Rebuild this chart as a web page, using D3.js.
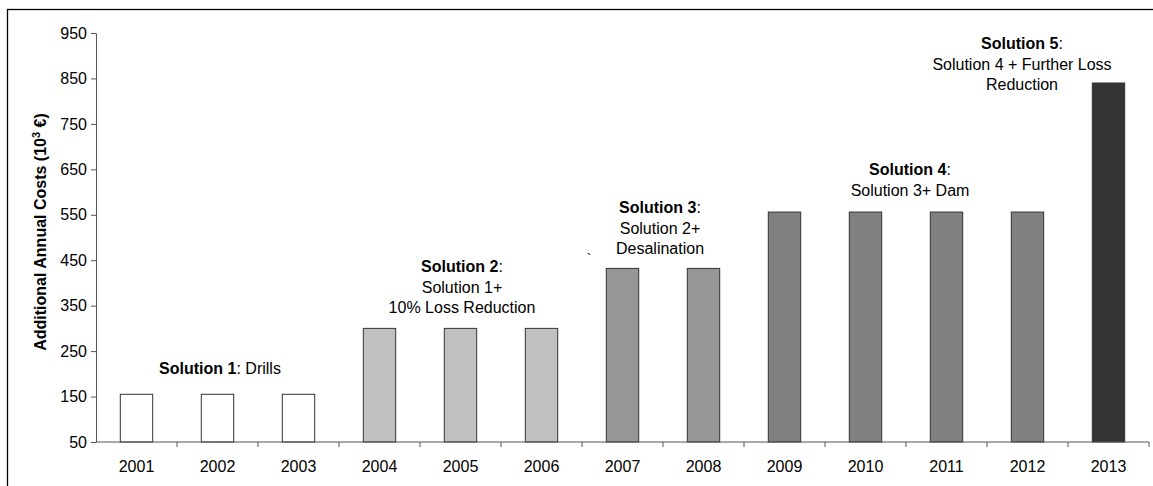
<!DOCTYPE html>
<html>
<head>
<meta charset="utf-8">
<script src="https://cdn.jsdelivr.net/npm/d3@7"></script>
<style>
  html, body { margin: 0; padding: 0; background: #fff; }
  svg { display: block; font-family: Arial, "Liberation Sans", sans-serif; }
</style>
</head>
<body>
<svg id="chart" width="1153" height="486"></svg>
<script>
// ---- data ----
const years = ["2001","2002","2003","2004","2005","2006","2007","2008","2009","2010","2011","2012","2013"];
const costs = [155, 155, 155, 300, 300, 300, 432, 432, 556, 556, 556, 556, 840];
const solutionOfYear = [1,1,1,2,2,2,3,3,4,4,4,4,5];
const solutionColors = ["#ffffff", "#c0c0c0", "#969696", "#808080", "#333333"];
const yTicks = [50, 150, 250, 350, 450, 550, 650, 750, 850, 950];
const annTitles = ["Solution 1", "Solution 2", "Solution 3", "Solution 4", "Solution 5"];
const annLines = [
  [": Drills"],
  [":", "Solution 1+", "10% Loss Reduction"],
  [":", "Solution 2+", "Desalination"],
  [":", "Solution 3+ Dam"],
  [":", "Solution 4 + Further Loss", "Reduction"]
];
const yLabel = "Additional Annual Costs (10";

(function () {
// ---- layout ----
const svg = d3.select("#chart");
const mLeft = 96, mRight = 1149, mTop = 33, mBottom = 442;

// frame
svg.append("rect").attr("x", 7.5).attr("y", 9.5).attr("width", 1200).attr("height", 600)
  .attr("fill", "none").attr("stroke", "#000").attr("stroke-width", 1.3);

const x = d3.scaleBand().domain(years).range([mLeft, mRight]).paddingInner(0.6).paddingOuter(0.3);
const xb = d3.scaleBand().domain(years).range([mLeft, mRight]);
const y = d3.scaleLinear().domain([50, 950]).range([mBottom, mTop]);

// bars
svg.append("g").selectAll("rect").data(years).join("rect")
  .attr("x", d => x(d))
  .attr("width", x.bandwidth())
  .attr("y", (d, i) => y(costs[i]))
  .attr("height", (d, i) => y(50) - y(costs[i]))
  .attr("fill", (d, i) => solutionColors[solutionOfYear[i] - 1])
  .attr("stroke", "#333")
  .attr("stroke-width", 1);

// y axis
const yAxis = svg.append("g").attr("transform", `translate(${mLeft},0)`)
  .call(d3.axisLeft(y).tickValues(yTicks).tickSize(5).tickSizeOuter(0).tickPadding(4));
yAxis.select(".domain").attr("stroke", "#555");
yAxis.selectAll(".tick line").attr("stroke", "#555");
yAxis.selectAll("text").attr("font-size", 16).attr("fill", "#000")
  .attr("font-family", "Arial, 'Liberation Sans', sans-serif");

// x axis (ticks at band boundaries)
const xAxisG = svg.append("g").attr("transform", `translate(0,${mBottom})`);
xAxisG.append("line").attr("x1", mLeft).attr("x2", mRight).attr("y1", 0).attr("y2", 0).attr("stroke", "#555");
xAxisG.selectAll("line.tk").data(years).join("line").attr("class", "tk")
  .attr("x1", d => xb(d) + xb.bandwidth())
  .attr("x2", d => xb(d) + xb.bandwidth())
  .attr("y1", 0).attr("y2", 5).attr("stroke", "#555");
xAxisG.selectAll("text").data(years).join("text")
  .attr("x", d => xb(d) + xb.bandwidth() / 2)
  .attr("y", 30)
  .attr("text-anchor", "middle")
  .attr("font-size", 16)
  .attr("fill", "#000")
  .text(d => d);

// y label
const yl = svg.append("text")
  .attr("transform", "translate(46,232) rotate(-90)")
  .attr("text-anchor", "middle")
  .attr("font-size", 16)
  .attr("font-weight", "bold")
  .attr("fill", "#000");
yl.append("tspan").text(yLabel);
yl.append("tspan").attr("dy", -6).attr("font-size", 11).text("3");
yl.append("tspan").attr("dy", 6).text(" €)");

// annotations: [centerX, firstBaseline]
const annPos = [[220, 374], [462, 272], [660, 213], [910, 175], [1022, 49]];
const lineGap = 20.7;
annTitles.forEach((t, k) => {
  const [cx, by] = annPos[k];
  const lines = annLines[k];
  const first = svg.append("text")
    .attr("x", cx).attr("y", by).attr("text-anchor", "middle")
    .attr("font-size", 16).attr("fill", "#000");
  first.append("tspan").attr("font-weight", "bold").text(t);
  first.append("tspan").text(lines[0]);
  lines.slice(1).forEach((ln, j) => {
    svg.append("text")
      .attr("x", cx).attr("y", by + (j + 1) * lineGap)
      .attr("text-anchor", "middle").attr("font-size", 16).attr("fill", "#000")
      .text(ln);
  });
});

// stray mark present in the original
svg.append("text").attr("x", 589).attr("y", 264).attr("text-anchor", "middle")
  .attr("font-size", 14).attr("fill", "#000").text("`");
})();
</script>
</body>
</html>
